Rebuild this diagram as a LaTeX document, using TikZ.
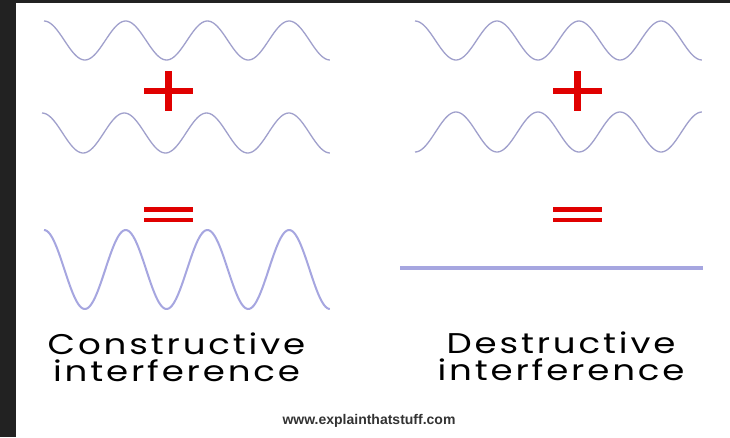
\documentclass[tikz,border=0pt]{standalone}
\usepackage{fontspec}
\newfontfamily\siteface{Liberation Sans}
\newfontfamily\capface[FakeStretch=1.25, LetterSpace=10]{Poppins}
\usetikzlibrary{positioning}

\definecolor{frame}{HTML}{222222}
\definecolor{wavecol}{HTML}{A0A0CC}
\definecolor{bigwave}{HTML}{A6A6E0}
\definecolor{signred}{HTML}{E00000}

\begin{document}
\begin{tikzpicture}[
  x=1pt, y=-1pt,
  wave/.style={wavecol, line width=1.3pt},
  strongwave/.style={bigwave, line width=2pt},
  bar/.style={fill=signred, draw=none},
  caption/.style={
    inner sep=0pt,
    align=center,
    anchor=north,
    font=\capface\fontsize{28.5}{27}\selectfont
  },
  site/.style={inner sep=0pt, text=black!80, font=\siteface\bfseries\fontsize{14}{14}\selectfont}
]

\fill[frame] (0,0) rectangle (730,437);
\fill[white] (16,3) rectangle (730,437);

% left column
\draw[wave] plot[domain=0:3.5, samples=160] ({44+\x*81.71}, {40.5-19.5*cos(360*\x)});
\draw[wave] plot[domain=0:3.5, samples=160] ({42+\x*82.29}, {133-20*cos(360*\x)});
\draw[strongwave] plot[domain=0:3.5, samples=200] ({44+\x*81.71}, {269.5-39.5*cos(360*\x)});

\fill[bar] (144,88) rectangle (193,94);
\fill[bar] (165,71) rectangle (172,111);
\fill[bar] (144,207) rectangle (193,211.5);
\fill[bar] (144,217.5) rectangle (193,222);

\node[caption] (constr) at (176.5,333) {Constructive\\interference};

% right column
\draw[wave] plot[domain=0:3.5, samples=160] ({415+\x*82}, {40.5-19.5*cos(360*\x)});
\draw[wave] plot[domain=0:3.5, samples=160] ({415+\x*82}, {132+20*cos(360*\x)});
\draw[bigwave, line width=3.5pt] (400,268) -- (703,268);

\fill[bar] (553,88) rectangle (602,94);
\fill[bar] (574,71) rectangle (581,111);
\fill[bar] (553,207) rectangle (602,211.5);
\fill[bar] (553,217.5) rectangle (602,222);

\node[caption] (destr) at (561,332) {Destructive\\interference};

\node[site] (url) at (369,421) {www.explainthatstuff.com};

\end{tikzpicture}
\end{document}
